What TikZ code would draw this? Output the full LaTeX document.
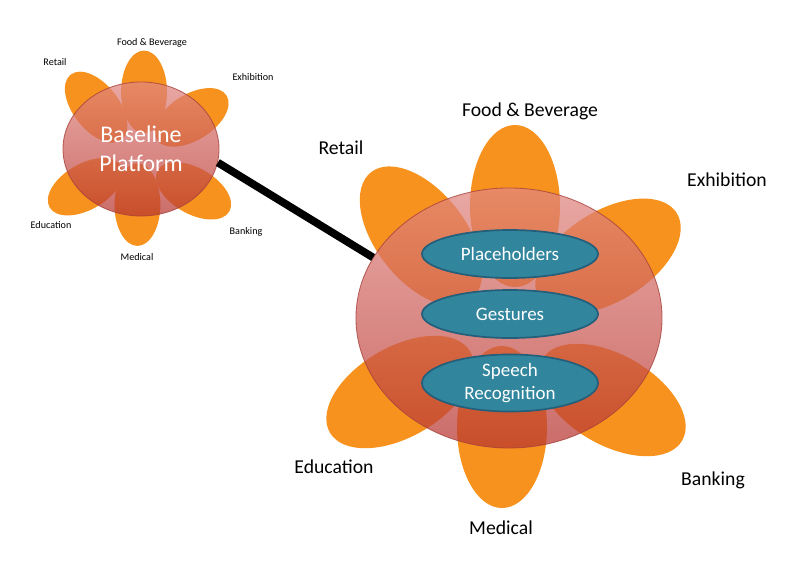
\documentclass[tikz,border=0pt]{standalone}
\usepackage{fontspec}
\setmainfont{Carlito}
\usetikzlibrary{shapes.geometric}
\definecolor{petalorange}{HTML}{F7921E}
\definecolor{discpink}{HTML}{E18781}
\definecolor{discred}{HTML}{B83530}
\definecolor{discedge}{HTML}{A8413C}
\definecolor{chipteal}{HTML}{31859C}
\definecolor{chipedge}{HTML}{235E7A}

\begin{document}
\begin{tikzpicture}[x=0.025cm, y=-0.025cm,
  petal/.style={fill=petalorange},
  disc/.style={ellipse, draw=discedge, line width=0.6pt, top color=discpink, bottom color=discred,
               fill opacity=0.72, draw opacity=0.8, text opacity=1, inner sep=0pt},
  chip/.style={ellipse, draw=chipedge, line width=1.2pt, fill=chipteal, text=white,
               minimum width=4.4cm, minimum height=1.2cm, inner sep=0pt, align=center,
               font=\fontsize{13.5}{17}\selectfont},
  lbl/.style={font=\fontsize{14}{17}\selectfont},
  tiny/.style={font=\fontsize{7.2}{9}\selectfont},
  link/.style={line width=5.5pt}]
  \fill[white] (0,0) rectangle (800,566);
  % petals: small flower at 0.51, large one at 1
  \foreach \cx/\cy/\s in {141/149/0.51, 509/318/1}{
    \begin{scope}[shift={(\cx,\cy)}, scale=\s]
      \foreach \dx/\dy/\ang in {6/-112/90, 99/-62/32, 103/82/-30, -7/109/90, -109/74/30, -88/-82/128}
        \fill[petal, rotate around={\ang:(\dx,\dy)}] (\dx,\dy) ellipse [x radius=81, y radius=45];
    \end{scope}
  }
  \node[disc, minimum width=3.9cm, minimum height=3.35cm, text=white, align=center,
        font=\fontsize{17}{20.6}\selectfont] (base) at (141,149) {Baseline\\Platform};
  \node[disc, minimum width=7.65cm, minimum height=6.5cm] (big) at (509,318) {};
  \draw[link] (base.-10) -- (big.156);
  \node[chip] (ph) at (510,254) {Placeholders};
  \node[chip] (ge) at (510,314) {Gestures};
  \node[chip] (sr) at (510,383) {Speech\\Recognition};
  % labels, large flower
  \node[lbl] (fb) at (530,111) {Food \& Beverage};
  \node[lbl] (rt) at (341,148) {Retail};
  \node[lbl] (ex) at (727,180) {Exhibition};
  \node[lbl] (ed) at (334,467) {Education};
  \node[lbl] (md) at (501,528) {Medical};
  \node[lbl] (bk) at (713,480) {Banking};
  % labels, small flower
  \node[tiny] (sfb) at (152,43) {Food \& Beverage};
  \node[tiny] (srt) at (55,62) {Retail};
  \node[tiny] (sex) at (253,77) {Exhibition};
  \node[tiny] (sed) at (51,225) {Education};
  \node[tiny] (smd) at (137,257) {Medical};
  \node[tiny] (sbk) at (246,232) {Banking};
\end{tikzpicture}
\end{document}
